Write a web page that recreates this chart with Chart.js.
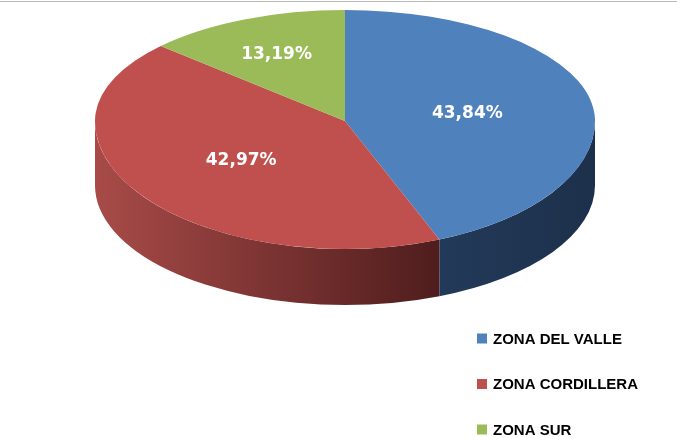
<!DOCTYPE html>
<html>
<head>
<meta charset="utf-8">
<script src="https://cdn.jsdelivr.net/npm/chart.js@4.4.0/dist/chart.umd.min.js"></script>
<style>
html,body{margin:0;padding:0;background:#fff;}
#wrap{position:relative;width:677px;height:438px;overflow:hidden;}
#topline{position:absolute;left:0;top:1px;width:677px;height:1px;background:#b9b9b9;}
</style>
</head>
<body>
<div id="wrap">
	<canvas id="myChart" width="677" height="438"></canvas>
	<div id="topline"></div>
</div>
<script>
const zonas = ['ZONA DEL VALLE', 'ZONA CORDILLERA', 'ZONA SUR']
const porcentajes = [43.84, 42.97, 13.19]

const colorTapa = ['#4F81BD', '#C0504D', '#9BBB59']
const colorLadoClaro = ['#223A59', '#A84B48', '#6F8A3C']
const colorLadoOscuro = ['#1D304B', '#4F1D1D', '#4E6328']

// tapa en perspectiva: mitad de atras mas chata que la de adelante
const CX = 345, PY = 121, RX = 250
const RY_ATRAS = 111, RY_FRENTE = 128
// contorno inferior del pastel
const BY = 185.5, BRY = 119.5

function fmt(v){
	return v.toFixed(2).replace('.', ',') + '%'
}

function transformar(ctx, arc, ry){
	ctx.translate(CX, PY)
	ctx.scale(RX/arc.outerRadius, ry/arc.outerRadius)
	ctx.translate(-arc.x, -arc.y)
}

const pastel3d = {
	id: 'pastel3d',
	beforeDatasetsDraw(chart){
		const ctx = chart.ctx
		const arcs = chart.getDatasetMeta(0).data
		// paredes frontales
		ctx.save()
		arcs.forEach((arc, i)=>{
			let a1 = Math.max(arc.startAngle, 0)
			let a2 = Math.min(arc.endAngle, Math.PI)
			if(a2 <= a1) return
			let x1 = CX + RX*Math.cos(a2)
			let x2 = CX + RX*Math.cos(a1)
			let g = ctx.createLinearGradient(Math.min(x1,x2), 0, Math.max(x1,x2), 0)
			g.addColorStop(0, colorLadoClaro[i])
			g.addColorStop(1, colorLadoOscuro[i])
			ctx.beginPath()
			ctx.ellipse(CX, PY, RX, RY_FRENTE, 0, a1, a2, false)
			ctx.ellipse(CX, BY, RX, BRY, 0, a2, a1, true)
			ctx.closePath()
			ctx.fillStyle = g
			ctx.fill()
		})
		ctx.restore()
		// mitad de atras de la tapa
		ctx.save()
		ctx.beginPath()
		ctx.rect(0, 0, chart.width, PY)
		ctx.clip()
		transformar(ctx, arcs[0], RY_ATRAS)
	},
	afterDatasetsDraw(chart){
		const ctx = chart.ctx
		const meta = chart.getDatasetMeta(0)
		const arcs = meta.data
		ctx.restore()
		// mitad de adelante de la tapa
		ctx.save()
		ctx.beginPath()
		ctx.rect(0, PY, chart.width, chart.height - PY)
		ctx.clip()
		transformar(ctx, arcs[0], RY_FRENTE)
		meta.controller.draw()
		ctx.restore()
		// etiquetas en el centroide de cada porcion
		ctx.save()
		ctx.font = 'bold 17px "DejaVu Sans"'
		ctx.fillStyle = '#fff'
		ctx.textAlign = 'center'
		ctx.textBaseline = 'middle'
		arcs.forEach((arc, i)=>{
			let m = (arc.startAngle + arc.endAngle)/2
			let phi = arc.endAngle - arc.startAngle
			let f = 1.05*4*Math.sin(phi/2)/(3*phi)
			let ry = Math.sin(m) > 0 ? RY_FRENTE : RY_ATRAS
			let x = CX + RX*f*Math.cos(m)
			let y = PY + ry*f*Math.sin(m)
			ctx.fillText(fmt(porcentajes[i]), x, y + 3)
		})
		ctx.restore()
	},
	afterDraw(chart){
		const ctx = chart.ctx
		ctx.save()
		ctx.font = 'bold 15px "Liberation Sans"'
		ctx.textAlign = 'left'
		ctx.textBaseline = 'middle'
		zonas.forEach((z, i)=>{
			let y = 338.5 + i*45.5
			ctx.fillStyle = colorTapa[i]
			ctx.fillRect(477, y-5, 10, 10)
			ctx.fillStyle = '#000'
			ctx.fillText(z, 493, y+1)
		})
		ctx.restore()
	}
}

function draw(){
	const ctx = document.getElementById('myChart').getContext('2d')
	new Chart(ctx, {
		type: 'pie',
		data: {
			labels: zonas,
			datasets: [{
				data: porcentajes,
				backgroundColor: colorTapa,
				borderWidth: 0,
				hoverOffset: 0,
				clip: false
			}]
		},
		options: {
			responsive: false,
			animation: false,
			events: [],
			plugins: {
				legend: { display: false },
				tooltip: { enabled: false }
			}
		},
		plugins: [pastel3d]
	})
}

window.onload = ()=>{
	draw()
}
</script>
</body>
</html>
